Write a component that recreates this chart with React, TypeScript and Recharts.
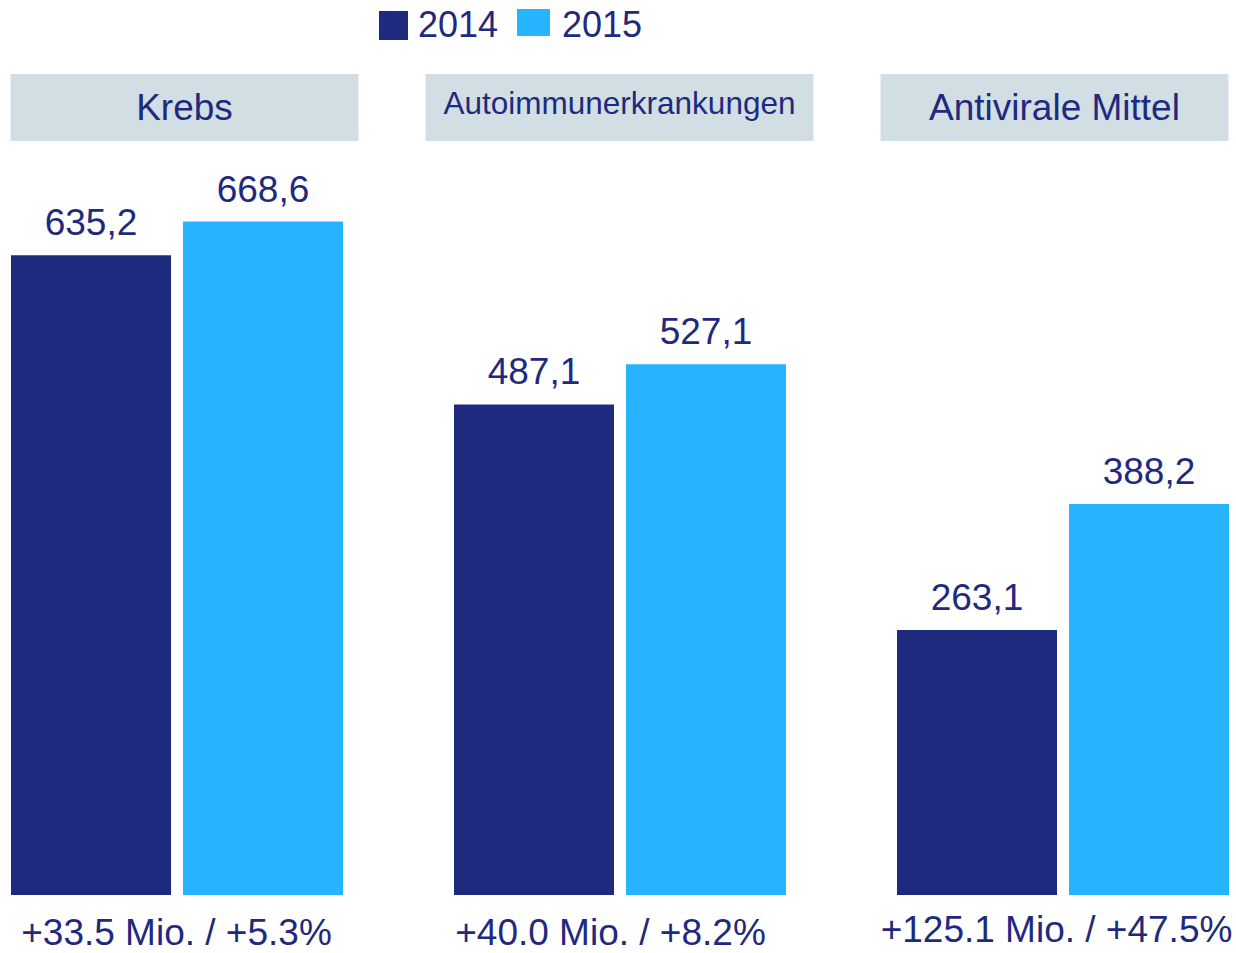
import { BarChart, Bar, XAxis, YAxis, LabelList, Legend } from 'recharts'

const categories = ['Krebs', 'Autoimmunerkrankungen', 'Antivirale Mittel']
const sales2014 = [635.2, 487.1, 263.1]
const sales2015 = [668.6, 527.1, 388.2]
const changeLabels = ['+33.5 Mio. / +5.3%', '+40.0 Mio. / +8.2%', '+125.1 Mio. / +47.5%']

const data = categories.map((c, i) => ({
  category: c,
  y2014: sales2014[i],
  y2015: sales2015[i],
  change: changeLabels[i]
}))

const NAVY = '#1E2A7E'
const SKY = '#27B4FF'
const TEXT = '#1F2A7E'
const BOX = '#D1DEE4'
const FONT = '"Liberation Sans", Arial, sans-serif'

// slide layout nudges (header boxes and change captions are not exactly centred on the bars)
const headerLayout = [
  { dx: 8, w: 348, fs: 37, base: -70 },
  { dx: 0, w: 388, fs: 31.5, base: -76 },
  { dx: -8, w: 348, fs: 37, base: -70 }
]
const changeLayout = [
  { dx: 0, dy: 50 },
  { dx: -9, dy: 50 },
  { dx: -6, dy: 47 }
]

const fmt = (v: any) => Number(v).toFixed(1).replace('.', ',')

function HeaderTick(props: any) {
  const { x, y, payload, index } = props
  const l = headerLayout[index] || headerLayout[0]
  const cx = x + l.dx
  return (
    <g>
      <rect x={cx - l.w / 2} y={y - 116} width={l.w} height={67} fill={BOX} />
      <text x={cx} y={y + l.base} textAnchor="middle" fill={TEXT} fontSize={l.fs}>
        {payload.value}
      </text>
    </g>
  )
}

function ChangeTick(props: any) {
  const { x, y, index } = props
  const l = changeLayout[index] || changeLayout[0]
  return (
    <text x={x + l.dx} y={y + l.dy} textAnchor="middle" fill={TEXT} fontSize={37}>
      {data[index] ? data[index].change : ''}
    </text>
  )
}

function YearLegend(props: any) {
  const items = props.payload || []
  const squares = [
    { x: 0, y: 11, w: 29, h: 29, tx: 39 },
    { x: 138, y: 9, w: 33, h: 27, tx: 183 }
  ]
  return (
    <svg width={300} height={45} style={{ display: 'block' }}>
      {items.map((it: any, i: number) => {
        const s = squares[i] || squares[0]
        return (
          <g key={it.value}>
            <rect x={s.x} y={s.y} width={s.w} height={s.h} fill={it.color} />
            <text x={s.tx} y={37} fill={TEXT} fontSize={36} fontFamily={FONT}>
              {it.value}
            </text>
          </g>
        )
      })}
    </svg>
  )
}

export default function App() {
  return (
    <div
      style={{
        position: 'absolute',
        left: 0,
        top: 0,
        width: 1236,
        height: 953,
        overflow: 'hidden',
        background: '#fff',
        fontFamily: FONT
      }}
    >
      <div style={{ position: 'absolute', left: -45, top: 0 }}>
        <BarChart
          width={1329}
          height={953}
          data={data}
          margin={{ top: 70, right: 0, bottom: 0, left: 0 }}
          barSize={160}
          barGap={12}
        >
          <XAxis
            xAxisId="top"
            dataKey="category"
            orientation="top"
            height={120}
            axisLine={false}
            tickLine={false}
            tickSize={0}
            tickMargin={0}
            interval={0}
            tick={<HeaderTick />}
          />
          <XAxis
            dataKey="category"
            height={58}
            axisLine={false}
            tickLine={false}
            tickSize={0}
            tickMargin={0}
            interval={0}
            tick={<ChangeTick />}
          />
          <YAxis hide domain={[0, 700]} />
          <Legend
            layout="horizontal"
            align="center"
            verticalAlign="middle"
            wrapperStyle={{ top: 0, left: 424, width: 300, height: 45 }}
            content={<YearLegend />}
          />
          <Bar dataKey="y2014" name="2014" fill={NAVY} isAnimationActive={false}>
            <LabelList dataKey="y2014" position="top" offset={20} fill={TEXT} fontSize={37} formatter={fmt} />
          </Bar>
          <Bar dataKey="y2015" name="2015" fill={SKY} isAnimationActive={false}>
            <LabelList dataKey="y2015" position="top" offset={20} fill={TEXT} fontSize={37} formatter={fmt} />
          </Bar>
        </BarChart>
      </div>
    </div>
  )
}
